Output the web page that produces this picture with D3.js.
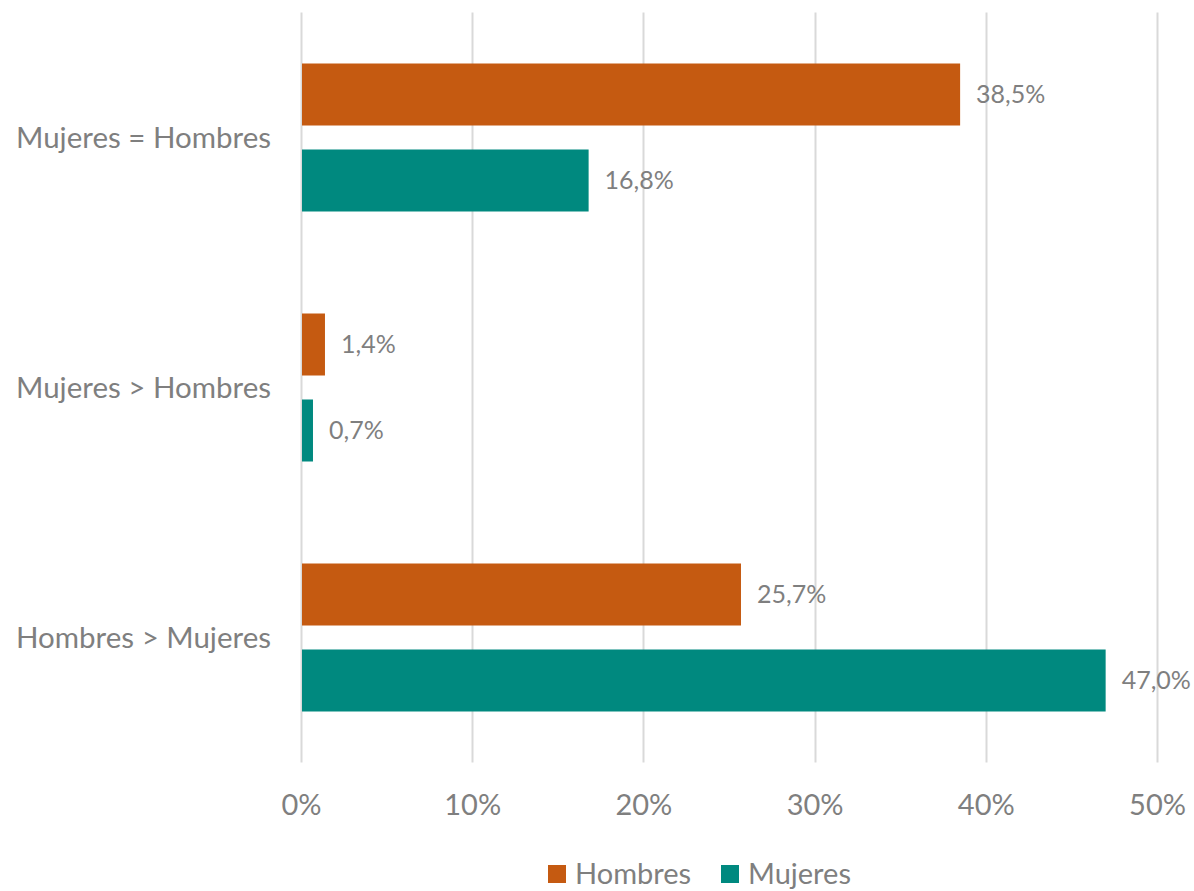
<!DOCTYPE html>
<html>
<head>
<meta charset="utf-8">
<script src="https://cdn.jsdelivr.net/npm/d3@7"></script>
<style>
  html, body { margin: 0; padding: 0; background: #fff; }
  svg text { font-family: Lato, "Open Sans", sans-serif; fill: #7f7f7f; }
</style>
</head>
<body>
<svg id="chart" width="1194" height="891"></svg>
<script>
// Categories from top to bottom
const categories = ["Mujeres = Hombres", "Mujeres > Hombres", "Hombres > Mujeres"];
const seriesNames = ["Hombres", "Mujeres"];
const hombres = [38.5, 1.4, 25.7];
const mujeres = [16.8, 0.7, 47.0];
const tickValues = [0, 10, 20, 30, 40, 50];
const colors = { Hombres: "#C55A11", Mujeres: "#00897F" };

const svg = d3.select("#chart");
const margin = { left: 301, right: 37, top: 12.5, bottom: 128.5 };
const W = 1194, H = 891;

const x = d3.scaleLinear().domain([0, 50]).range([margin.left, W - margin.right]);
const y = d3.scaleBand().domain(categories).range([margin.top, H - margin.bottom]).paddingInner(0).paddingOuter(0);
const yInner = d3.scaleBand().domain(seriesNames).range([51, y.bandwidth() - 51]).paddingInner(0.279).paddingOuter(0);

// Vertical gridlines
svg.append("g")
  .selectAll("line")
  .data(tickValues)
  .join("line")
  .attr("x1", d => Math.round(x(d)) + 0.5)
  .attr("x2", d => Math.round(x(d)) + 0.5)
  .attr("y1", margin.top)
  .attr("y2", H - margin.bottom)
  .attr("stroke", "#d9d9d9")
  .attr("stroke-width", 2);

// X axis tick labels
const xAxis = d3.axisBottom(x).tickValues(tickValues).tickSize(0).tickPadding(0).tickFormat(d => d + "%");
const gx = svg.append("g").attr("transform", `translate(0, ${H - margin.bottom})`).call(xAxis);
gx.select(".domain").remove();
gx.selectAll("text")
  .attr("dy", null)
  .attr("y", 52)
  .style("font-size", "29px")
  .attr("fill", "#7f7f7f");

// Category labels
const yAxis = d3.axisLeft(y).tickSize(0).tickPadding(0);
const gy = svg.append("g").attr("transform", `translate(271, 0)`).call(yAxis);
gy.select(".domain").remove();
gy.selectAll("text")
  .attr("dy", "0.35em")
  .style("font-size", "29.5px")
  .attr("fill", "#7f7f7f");

// Bars
const rows = categories.map((c, i) => ({ cat: c, values: [
  { s: "Hombres", v: hombres[i] },
  { s: "Mujeres", v: mujeres[i] }
]}));

const groups = svg.append("g").selectAll("g")
  .data(rows)
  .join("g")
  .attr("transform", d => `translate(0, ${y(d.cat)})`);

groups.selectAll("rect")
  .data(d => d.values)
  .join("rect")
  .attr("x", x(0) + 1)
  .attr("y", d => yInner(d.s))
  .attr("width", d => x(d.v) - x(0) - 1)
  .attr("height", yInner.bandwidth())
  .attr("fill", d => colors[d.s]);

// Value labels
const fmt = v => v.toFixed(1).replace(".", ",") + "%";
groups.selectAll("text.value")
  .data(d => d.values)
  .join("text")
  .attr("class", "value")
  .attr("x", d => x(d.v) + 16)
  .attr("y", d => yInner(d.s) + yInner.bandwidth() / 2)
  .attr("dy", "0.35em")
  .style("font-size", "25px")
  .text(d => fmt(d.v));

// Legend
const legend = svg.append("g").attr("transform", "translate(0, 874)");
const legendItems = [
  { s: "Hombres", x: 548 },
  { s: "Mujeres", x: 721 }
];
const li = legend.selectAll("g").data(legendItems).join("g")
  .attr("transform", d => `translate(${d.x}, 0)`);
li.append("rect")
  .attr("x", 0).attr("y", -9).attr("width", 18).attr("height", 18)
  .attr("fill", d => colors[d.s]);
li.append("text")
  .attr("x", 27).attr("y", 0).attr("dy", "0.35em")
  .style("font-size", "29px")
  .text(d => d.s);
</script>
</body>
</html>
